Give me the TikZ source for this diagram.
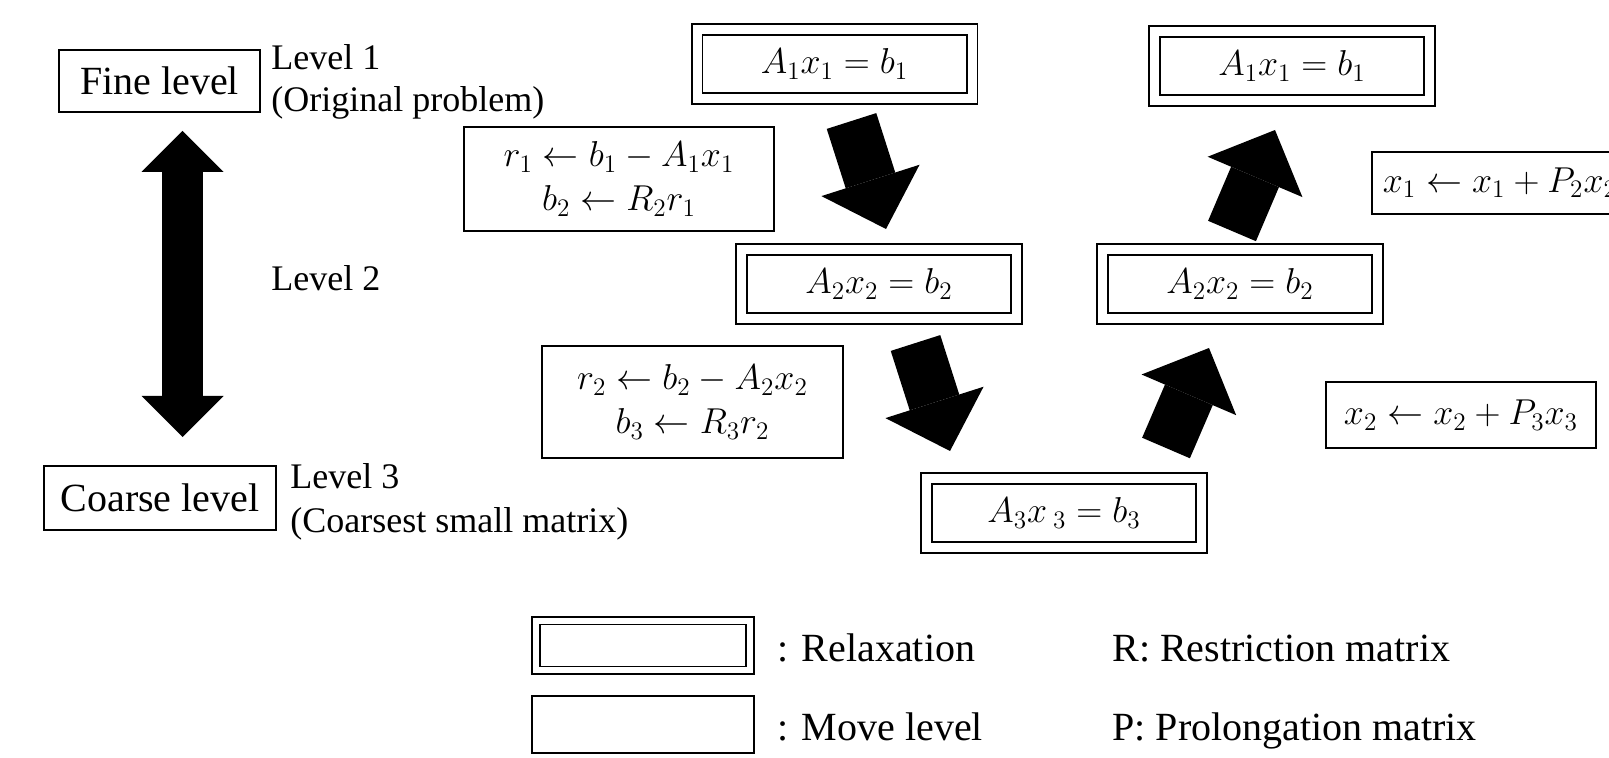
\RequirePackage{fix-cm}
\documentclass[tikz,border=0pt]{standalone}
\usepackage{fontspec}
\setmainfont{Liberation Serif}
\usetikzlibrary{arrows.meta}

\begin{document}
\begin{tikzpicture}[x=0.5pt,y=-0.5pt,
  box/.style={draw, line width=0.8pt, rectangle, inner sep=0pt, align=center, font=\fontsize{18}{22}\selectfont},
  relax/.style={box, double, double distance=4.5pt, minimum width=137.5pt, minimum height=34.5pt},
  lvlbox/.style={draw, line width=0.8pt, rectangle, inner sep=0pt, font=\fontsize{20}{24}\selectfont},
  lbl/.style={inner sep=0pt, anchor=base west, font=\fontsize{18}{22}\selectfont},
  legtext/.style={inner sep=0pt, anchor=base west, font=\fontsize{20}{24}\selectfont},
  fat/.style={line width=26pt, -{Triangle[length=25.5pt, width=51.5pt, line width=0pt]}},
  tall/.style={line width=20.5pt, {Triangle[length=20.5pt, width=41pt, line width=0pt]}-{Triangle[length=20.5pt, width=41pt, line width=0pt]}}]
\clip (0,0) rectangle (1609,758);

% levels on the left
\node[lvlbox, minimum width=100.5pt, minimum height=31pt] (fine) at (159.5,81) {Fine level};
\node[lvlbox, minimum width=116pt, minimum height=32pt] (coarse) at (160,498) {Coarse level};
\node[lbl] (lev1) at (271,70) {Level 1};
\node[lbl] (lev1b) at (271,112) {(Original problem)};
\node[lbl] (lev2) at (271,291) {Level 2};
\node[lbl] (lev3) at (290,488) {Level 3};
\node[lbl] (lev3b) at (290,532) {(Coarsest small matrix)};
\coordinate (tallTop) at (182.5,131);
\coordinate (tallBot) at (182.5,437);
\draw[tall] (tallBot) -- (tallTop);

% V-cycle
\node[relax] (a1d) at (834.5,64) {$A_1x_1 = b_1$};
\node[relax] (a2d) at (879,284) {$A_2x_2 = b_2$};
\node[relax] (a3) at (1064,513) {$A_3x\,{}_3 = b_3$};
\node[relax] (a2u) at (1240,284) {$A_2x_2 = b_2$};
\node[relax] (a1u) at (1292,66) {$A_1x_1 = b_1$};

\node[box, minimum width=155pt, minimum height=52pt] (rest1) at (619,179) {$r_1 \leftarrow b_1 - A_1x_1$\\$b_2 \leftarrow R_2r_1$};
\node[box, minimum width=150.5pt, minimum height=56pt] (rest2) at (692.5,402) {$r_2 \leftarrow b_2 - A_2x_2$\\$b_3 \leftarrow R_3r_2$};
\node[box, anchor=west, inner xsep=5.5pt, minimum height=31pt] (prol1) at (1371,183) {$x_1 \leftarrow x_1 + P_2x_2$};
\node[box, minimum width=135pt, minimum height=33pt] (prol2) at (1461,415) {$x_2 \leftarrow x_2 + P_3x_3$};

\coordinate (d1s) at (851.5,121);
\coordinate (d1e) at (886,229);
\coordinate (d2s) at (915.5,343);
\coordinate (d2e) at (950,451);
\coordinate (u2s) at (1166,448);
\coordinate (u2e) at (1209,348);
\coordinate (u1s) at (1232,231);
\coordinate (u1e) at (1275,130);
\draw[fat] (d1s) -- (d1e);
\draw[fat] (d2s) -- (d2e);
\draw[fat] (u2s) -- (u2e);
\draw[fat] (u1s) -- (u1e);

% legend
\node[relax, double distance=3pt, minimum width=107pt, minimum height=24.7pt] (legrelax) at (643,645.5) {};
\node[box, minimum width=111pt, minimum height=28.5pt] (legmove) at (643,724.5) {};
\node[legtext] (legrelaxt) at (777,661) {: Relaxation};
\node[legtext] (legmovet) at (777,740) {: Move level};
\node[legtext] (legR) at (1112,661) {R: Restriction matrix};
\node[legtext] (legP) at (1112,740) {P: Prolongation matrix};
\end{tikzpicture}
\end{document}
